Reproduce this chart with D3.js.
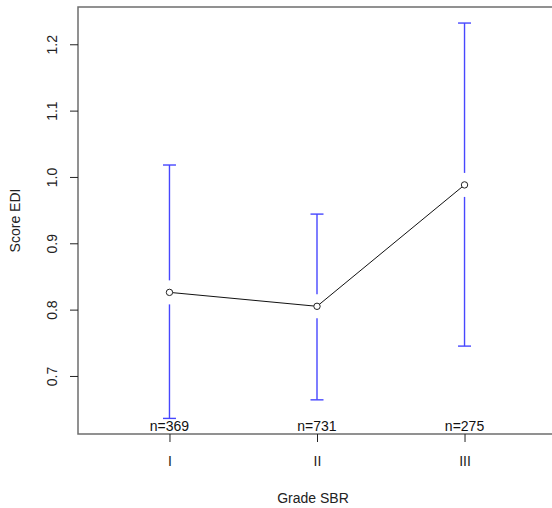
<!DOCTYPE html>
<html>
<head>
<meta charset="utf-8">
<script src="https://cdn.jsdelivr.net/npm/d3@7"></script>
<style>
  html, body { margin: 0; padding: 0; background: #fff; }
  svg { display: block; font-family: "Liberation Sans", Arial, sans-serif; }
</style>
</head>
<body>
<svg id="chart" width="552" height="508"></svg>
<script>
const categories = ["I", "II", "III"];
const meanValues = [0.826, 0.805, 0.988];
const upperValues = [1.018, 0.944, 1.232];
const lowerValues = [0.636, 0.664, 0.745];
const counts = [369, 731, 275];
const yTickValues = [0.7, 0.8, 0.9, 1.0, 1.1, 1.2];
const xLabel = "Grade SBR";
const yLabel = "Score EDI";

const svg = d3.select("#chart");
const pLeft = 78, pRight = 556, pTop = 7, pBottom = 434;

const x = d3.scaleLinear().domain([0.38, 3.62]).range([pLeft, pRight]);
const y = d3.scaleLinear().domain([0.6125, 1.2562]).range([pBottom, pTop]);

const data = categories.map((c, i) => ({
  cat: c, pos: i + 1, mean: meanValues[i], hi: upperValues[i], lo: lowerValues[i], n: counts[i]
}));

// Error bars
const gap = 12, cap = 6.5;
const eb = svg.append("g").attr("stroke", "#4747ff").attr("stroke-width", 1.4).attr("fill", "none");
data.forEach(d => {
  const cx = x(d.pos);
  eb.append("line").attr("x1", cx).attr("x2", cx).attr("y1", y(d.hi)).attr("y2", y(d.mean) - gap);
  eb.append("line").attr("x1", cx).attr("x2", cx).attr("y1", y(d.mean) + gap).attr("y2", y(d.lo));
  eb.append("line").attr("x1", cx - cap).attr("x2", cx + cap).attr("y1", y(d.hi)).attr("y2", y(d.hi));
  eb.append("line").attr("x1", cx - cap).attr("x2", cx + cap).attr("y1", y(d.lo)).attr("y2", y(d.lo));
});

// Mean line
const line = d3.line().x(d => x(d.pos)).y(d => y(d.mean));
svg.append("path").datum(data).attr("d", line)
  .attr("fill", "none").attr("stroke", "#111").attr("stroke-width", 1);

svg.append("g").selectAll("circle").data(data).join("circle")
  .attr("cx", d => x(d.pos)).attr("cy", d => y(d.mean)).attr("r", 3.2)
  .attr("fill", "#fff").attr("stroke", "#222").attr("stroke-width", 1);

// n labels
svg.append("g").selectAll("text").data(data).join("text")
  .attr("x", d => x(d.pos)).attr("y", 431)
  .attr("text-anchor", "middle").attr("font-size", 14).attr("fill", "#111")
  .text(d => "n=" + d.n);

// Box
svg.append("path")
  .attr("d", `M${pRight},${pTop}H${pLeft}V${pBottom}H${pRight}`)
  .attr("fill", "none").attr("stroke", "#6e6e6e").attr("stroke-width", 1.5);

// Y axis
const yAxis = svg.append("g").attr("transform", `translate(${pLeft},0)`)
  .call(d3.axisLeft(y).tickValues(yTickValues).tickFormat(d3.format(".1f")).tickSize(8).tickSizeOuter(0));
yAxis.select(".domain").remove();
yAxis.selectAll(".tick line").attr("stroke", "#222");
yAxis.selectAll(".tick text")
  .attr("font-size", 14).attr("fill", "#222").attr("font-family", "Liberation Sans, Arial, sans-serif")
  .attr("x", null).attr("dy", null)
  .attr("text-anchor", "middle")
  .attr("transform", "translate(-21,0) rotate(-90)");

// X axis
const xAxis = svg.append("g").attr("transform", `translate(0,${pBottom})`)
  .call(d3.axisBottom(x).tickValues([1, 2, 3]).tickFormat((d, i) => categories[i]).tickSize(8).tickSizeOuter(0).tickPadding(14));
xAxis.select(".domain").remove();
xAxis.selectAll(".tick line").attr("stroke", "#222");
xAxis.selectAll(".tick text").attr("font-size", 14).attr("fill", "#222")
  .attr("font-family", "Liberation Sans, Arial, sans-serif");

// Axis titles
svg.append("text").attr("x", (pLeft + pRight) / 2 - 4).attr("y", 503)
  .attr("text-anchor", "middle").attr("font-size", 14).attr("fill", "#222").text(xLabel);
svg.append("text").attr("transform", `translate(20,${(pTop + pBottom) / 2}) rotate(-90)`)
  .attr("text-anchor", "middle").attr("font-size", 14).attr("fill", "#222").text(yLabel);
</script>
</body>
</html>
